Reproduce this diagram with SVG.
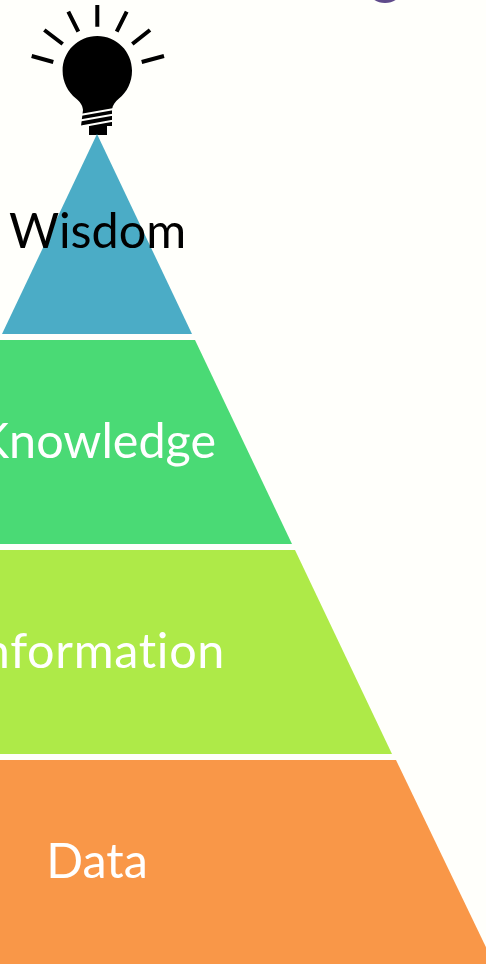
<svg xmlns="http://www.w3.org/2000/svg" width="486" height="964" viewBox="0 0 486 964">
<style>
.t{font-family:"Lato","Open Sans",sans-serif;font-size:48.500px;font-variant-ligatures:none;text-anchor:middle;fill:#fff}
.r{stroke:#000;stroke-width:4;stroke-linecap:butt;fill:none}
.th{stroke:#fffffb;stroke-width:1.800;fill:none}
</style>
<rect width="486" height="964" fill="#fffffb"/>
<g id="purple-arc"><ellipse cx="385" cy="-7" rx="15" ry="10" fill="#5f4b8b"/></g>
<g id="bulb">
<path d="M97.300 36C78 36 62.600 51.500 62.600 70.700C62.600 82 68 92 76 98.500C80 102 82.500 105 83 110L81 126H89L89 135H107L107 126H112L112 110C112.500 105 115 102 119 98.500C127 92 132 82 132 70.700C132 51.500 116.500 36 97.300 36Z" fill="#000"/>
<path class="th" d="M80 115L114 109M80 120.500L114 114.500M81 126.500L114 120.500"/>
<path class="r" d="M97.300 5V26.700M68.300 11.700L78.300 31.700M44.300 30L62.700 44M31.700 56L53.300 62M126.700 11.700L116.700 31.700M150 30L132.300 44M164 56L141.700 62"/>
</g>
<g id="wisdom"><polygon points="97,134 192,334 2,334" fill="#4bacc6"/><text class="t" x="97.500" y="248" style="fill:#000">Wisdom</text></g>
<g id="knowledge"><polygon points="195,340 292,544 -100,544 -100,340" fill="#4ada75"/><text class="t" x="96.500" y="458">Knowledge</text></g>
<g id="information"><polygon points="295,550 392,754 -100,754 -100,550" fill="#aeea48"/><text class="t" x="97" y="668" letter-spacing="0.700">Information</text></g>
<g id="data"><polygon points="396,760 496,968 -100,968 -100,760" fill="#f99748"/><text class="t" x="97" y="878">Data</text></g>
<g id="connectors"></g>
</svg>
